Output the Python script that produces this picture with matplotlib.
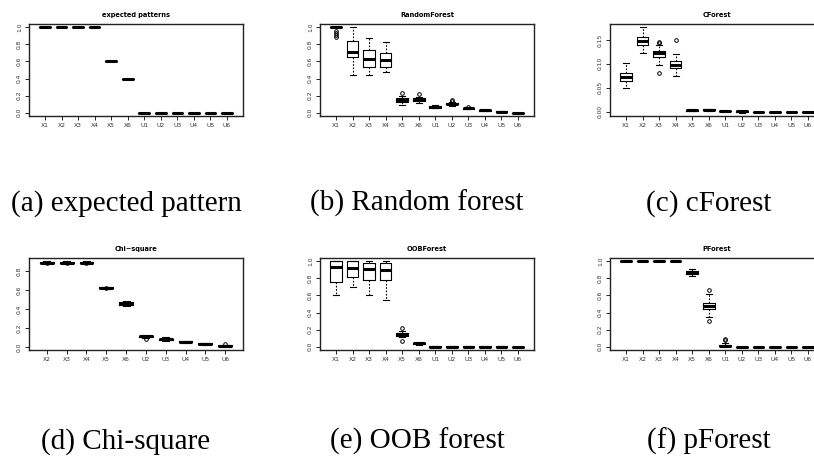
import matplotlib
matplotlib.use("Agg")
import matplotlib.pyplot as plt
from matplotlib.ticker import FormatStrFormatter

LAB12 = ["X1", "X2", "X3", "X4", "X5", "X6", "U1", "U2", "U3", "U4", "U5", "U6"]
LAB_CHI = ["X2", "X3", "X4", "X5", "X6", "U2", "U3", "U4", "U5", "U6"]

# (a) expected pattern
EXPECTED = [1.0, 1.0, 1.0, 1.0, 0.6, 0.4, 0.0, 0.0, 0.0, 0.0, 0.0, 0.0]

# (b) RandomForest
RF_MED = [1.0, 0.716, 0.632, 0.612, 0.148, 0.156, 0.066, 0.104, 0.052, 0.028, 0.012, 0.0]
RF_Q1 = [1.0, 0.656, 0.536, 0.540, 0.128, 0.140, 0.058, 0.096, 0.046, 0.024, 0.010, 0.0]
RF_Q3 = [1.0, 0.840, 0.730, 0.696, 0.168, 0.168, 0.074, 0.116, 0.058, 0.032, 0.014, 0.0]
RF_LO = [1.0, 0.440, 0.440, 0.472, 0.088, 0.112, 0.052, 0.080, 0.040, 0.020, 0.008, 0.0]
RF_HI = [1.0, 1.000, 0.880, 0.832, 0.200, 0.184, 0.090, 0.128, 0.062, 0.040, 0.016, 0.0]
RF_OUT = [[0.956, 0.940, 0.916, 0.892], [], [], [], [0.232], [0.216], [],
          [0.144, 0.136], [0.068], [], [], []]

# (c) CForest
CF_MED = [0.0732, 0.148, 0.122, 0.097, 0.0025, 0.0035, 0.001, 0.0005, 0.0, 0.0, 0.0, 0.0]
CF_Q1 = [0.0648, 0.139, 0.115, 0.091, 0.0015, 0.0025, 0.0005, -0.0005, 0.0, 0.0, 0.0, 0.0]
CF_Q3 = [0.0810, 0.156, 0.127, 0.105, 0.0035, 0.0045, 0.0015, 0.0012, 0.0, 0.0, 0.0, 0.0]
CF_LO = [0.049, 0.122, 0.098, 0.074, 0.0005, 0.0015, -0.0005, -0.002, 0.0, -0.001, 0.0, 0.0]
CF_HI = [0.102, 0.176, 0.139, 0.120, 0.0045, 0.0055, 0.0025, 0.0020, 0.0, 0.0, 0.0, 0.0]
CF_OUT = [[], [], [0.146, 0.144, 0.081], [0.150], [], [], [], [], [], [], [], []]

# (d) Chi-square
CHI_MED = [0.893, 0.893, 0.893, 0.627, 0.459, 0.115, 0.086, 0.057, 0.039, 0.018]
CHI_Q1 = [0.889, 0.889, 0.889, 0.622, 0.448, 0.108, 0.080, 0.052, 0.035, 0.014]
CHI_Q3 = [0.897, 0.897, 0.897, 0.632, 0.473, 0.122, 0.093, 0.062, 0.043, 0.022]
CHI_LO = [0.882, 0.882, 0.882, 0.615, 0.434, 0.100, 0.065, 0.045, 0.030, 0.008]
CHI_HI = [0.905, 0.905, 0.905, 0.640, 0.487, 0.133, 0.104, 0.068, 0.048, 0.026]
CHI_OUT = [[0.884], [0.885], [0.884], [0.620], [], [0.093], [], [], [], [0.036]]

# (e) OOBForest
OOB_MED = [0.932, 0.920, 0.916, 0.900, 0.144, 0.040, 0.0, 0.0, 0.0, 0.0, 0.0, 0.0]
OOB_Q1 = [0.764, 0.820, 0.776, 0.776, 0.128, 0.032, 0.0, 0.0, 0.0, 0.0, 0.0, 0.0]
OOB_Q3 = [1.000, 1.000, 0.976, 0.976, 0.164, 0.048, 0.002, 0.002, 0.002, 0.002, 0.002, 0.0]
OOB_LO = [0.604, 0.704, 0.604, 0.552, 0.108, 0.016, 0.0, 0.0, 0.0, 0.0, 0.0, 0.0]
OOB_HI = [1.000, 1.000, 1.000, 1.000, 0.184, 0.056, 0.008, 0.004, 0.006, 0.004, 0.006, 0.0]
OOB_OUT = [[], [], [], [], [0.220, 0.068], [], [], [], [], [], [], []]

# (f) PForest
PF_MED = [1.0, 1.0, 1.0, 1.0, 0.872, 0.480, 0.012, 0.0, 0.0, 0.0, 0.0, 0.0]
PF_Q1 = [1.0, 1.0, 1.0, 1.0, 0.856, 0.444, 0.006, 0.0, 0.0, 0.0, 0.0, 0.0]
PF_Q3 = [1.0, 1.0, 1.0, 1.0, 0.892, 0.512, 0.020, 0.0, 0.0, 0.0, 0.0, 0.0]
PF_LO = [1.0, 1.0, 1.0, 1.0, 0.832, 0.344, 0.0, 0.0, 0.0, 0.0, 0.0, 0.0]
PF_HI = [1.0, 1.0, 1.0, 1.0, 0.916, 0.612, 0.040, 0.0, 0.0, 0.0, 0.0, 0.0]
PF_OUT = [[], [], [], [], [], [0.664, 0.296], [0.072, 0.088], [], [], [], [], []]

panels = [
    ("expected patterns", LAB12, EXPECTED, EXPECTED, EXPECTED, EXPECTED, EXPECTED, [[]] * 12,
     [0, 0.2, 0.4, 0.6, 0.8, 1.0], "%.1f", "(a) expected pattern"),
    ("RandomForest", LAB12, RF_MED, RF_Q1, RF_Q3, RF_LO, RF_HI, RF_OUT,
     [0, 0.2, 0.4, 0.6, 0.8, 1.0], "%.1f", "(b) Random forest"),
    ("CForest", LAB12, CF_MED, CF_Q1, CF_Q3, CF_LO, CF_HI, CF_OUT,
     [0, 0.05, 0.10, 0.15], "%.2f", "(c) cForest"),
    ("Chi\u2212square", LAB_CHI, CHI_MED, CHI_Q1, CHI_Q3, CHI_LO, CHI_HI, CHI_OUT,
     [0, 0.2, 0.4, 0.6, 0.8], "%.1f", "(d) Chi-square"),
    ("OOBForest", LAB12, OOB_MED, OOB_Q1, OOB_Q3, OOB_LO, OOB_HI, OOB_OUT,
     [0, 0.2, 0.4, 0.6, 0.8, 1.0], "%.1f", "(e) OOB forest"),
    ("PForest", LAB12, PF_MED, PF_Q1, PF_Q3, PF_LO, PF_HI, PF_OUT,
     [0, 0.2, 0.4, 0.6, 0.8, 1.0], "%.1f", "(f) pForest"),
]

W, H = 814, 457
fig = plt.figure(figsize=(W / 100, H / 100), dpi=100)
fig.patch.set_facecolor("white")

col_x = [29, 320, 610]          # left edge of plot frame, px
row_y = [24, 258]               # top edge of plot frame, px
bw, bh = 214, 92
cap_x = [126, 417, 709]
cap_y = [211, 449]              # caption baselines, px

for i, (title, labs, med, q1, q3, lo, hi, out, yt, fmt, cap) in enumerate(panels):
    r, c = divmod(i, 3)
    ax = fig.add_axes([col_x[c] / W, 1 - (row_y[r] + bh) / H, bw / W, bh / H])
    stats = [dict(med=m, q1=a, q3=b, whislo=l, whishi=h, fliers=o, label=n)
             for m, a, b, l, h, o, n in zip(med, q1, q3, lo, hi, out, labs)]
    n = len(stats)
    ax.bxp(stats, positions=range(1, n + 1), widths=0.7, capwidths=0.35,
           boxprops=dict(color="black", lw=0.8),
           medianprops=dict(color="black", lw=2.2, solid_capstyle="butt"),
           whiskerprops=dict(color="black", lw=0.8, linestyle=(0, (1.5, 1.5))),
           capprops=dict(color="black", lw=0.8),
           flierprops=dict(marker="o", markersize=2.6, markerfacecolor="none",
                           markeredgecolor="black", markeredgewidth=0.7))
    vals = lo + hi + [v for o in out for v in o]
    ymin, ymax = min(vals), max(vals)
    pad = 0.04 * (ymax - ymin)
    ax.set_ylim(ymin - pad, ymax + pad)
    ax.set_xlim(0.5 - 0.04 * n, n + 0.5 + 0.04 * n)
    ax.set_yticks(yt)
    ax.yaxis.set_major_formatter(FormatStrFormatter(fmt))
    ax.tick_params(direction="out", length=3, width=0.6, labelsize=4.3, pad=2,
                   colors="black", labelcolor="#333333")
    for lab in ax.get_yticklabels():
        lab.set_rotation(90)
        lab.set_va("center")
    for sp in ax.spines.values():
        sp.set_linewidth(1.0)
        sp.set_color("#222222")
    ax.set_title(title, fontsize=4.8, fontweight="bold", pad=5)
    fig.text(cap_x[c] / W, 1 - cap_y[r] / H, cap, family="Liberation Serif",
             fontsize=21, ha="center", va="baseline")

fig.savefig("out.png", dpi=100)
